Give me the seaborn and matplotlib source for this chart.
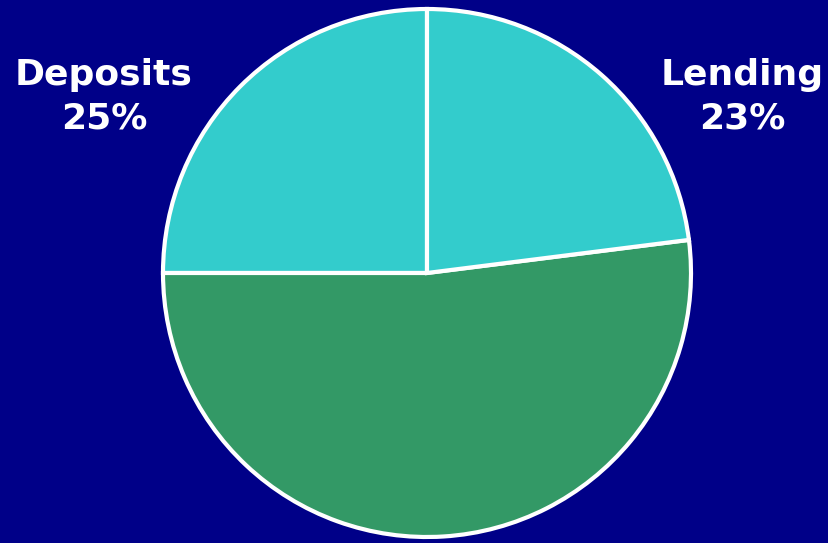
import matplotlib
matplotlib.use("Agg")
import matplotlib.pyplot as plt
import seaborn as sns

categories = ["Deposits", "Other", "Lending"]
shares = [25, 52, 23]
labels = ["Deposits\n25%", "", "Lending\n23%"]
colors = ["#33CCCC", "#339966", "#33CCCC"]

sns.set_style("white")
plt.rcParams["font.family"] = ["DejaVu Sans"]

W, H = 829, 543
fig = plt.figure(figsize=(W / 100, H / 100), dpi=100)
fig.patch.set_facecolor("#000088")
ax = fig.add_axes([0, 0, 1, 1])
ax.set_facecolor("#000088")

pal = sns.color_palette(colors)
ax.pie(shares, colors=pal, startangle=90, counterclock=True,
       center=(427, H - 273), radius=264,
       wedgeprops=dict(edgecolor="white", linewidth=3))

ax.set_xlim(0, W)
ax.set_ylim(0, H)
ax.set_aspect("equal")
ax.axis("off")

label_pos = {"Deposits": (104, H - 97), "Lending": (742, H - 97)}
for cat, lab in zip(categories, labels):
    if lab:
        x, y = label_pos[cat]
        ax.text(x, y, lab, color="white", fontsize=26, fontweight="bold",
                ha="center", va="center", linespacing=1.35)

fig.savefig("out.png", dpi=100, facecolor=fig.get_facecolor())
